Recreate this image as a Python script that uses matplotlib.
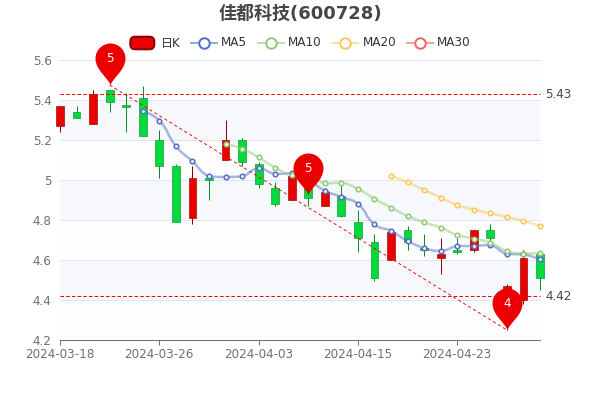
import numpy as np
import matplotlib
matplotlib.use('Agg')
import matplotlib.pyplot as plt
from matplotlib.lines import Line2D
from matplotlib.path import Path
from matplotlib.patches import FancyBboxPatch, PathPatch, Rectangle

plt.rcParams['font.family'] = ['DejaVu Sans', 'Noto Sans CJK SC']

dates = ['2024-03-18', '2024-03-19', '2024-03-20', '2024-03-21', '2024-03-22', '2024-03-25',
         '2024-03-26', '2024-03-27', '2024-03-28', '2024-03-29', '2024-04-01', '2024-04-02',
         '2024-04-03', '2024-04-08', '2024-04-09', '2024-04-10', '2024-04-11', '2024-04-12',
         '2024-04-15', '2024-04-16', '2024-04-17', '2024-04-18', '2024-04-19', '2024-04-22',
         '2024-04-23', '2024-04-24', '2024-04-25', '2024-04-26', '2024-04-29', '2024-04-30']

opens = [5.27, 5.342, 5.28, 5.45, 5.375, 5.41, 5.20, 5.07, 4.81, 5.01, 5.10, 5.20, 5.08, 4.96, 4.90,
         4.99, 4.87, 4.92, 4.79, 4.69, 4.60, 4.75, 4.66, 4.61, 4.65, 4.65, 4.75, 4.42, 4.40, 4.63]
closes = [5.37, 5.31, 5.43, 5.39, 5.365, 5.22, 5.07, 4.79, 5.01, 5.00, 5.20, 5.09, 4.98, 4.88, 5.02,
          4.91, 4.94, 4.82, 4.71, 4.51, 4.74, 4.69, 4.65, 4.63, 4.64, 4.75, 4.71, 4.47, 4.61, 4.51]
lows = [5.24, 5.31, 5.28, 5.342, 5.24, 5.22, 5.01, 4.79, 4.78, 4.90, 5.10, 5.07, 4.96, 4.87, 4.90,
        4.87, 4.87, 4.815, 4.64, 4.495, 4.60, 4.65, 4.62, 4.53, 4.63, 4.64, 4.685, 4.25, 4.38, 4.45]
highs = [5.37, 5.37, 5.448, 5.45, 5.435, 5.47, 5.25, 5.08, 5.07, 5.02, 5.30, 5.21, 5.09, 4.99, 5.04,
         5.00, 4.96, 4.985, 4.85, 4.73, 4.75, 4.77, 4.73, 4.71, 4.71, 4.75, 4.78, 4.48, 4.65, 4.63]

ma5_idx = list(range(5, 30))
ma5 = [5.345, 5.297, 5.17, 5.093, 5.018, 5.015, 5.018, 5.058, 5.03, 5.033, 5.00, 4.947, 4.915,
       4.88, 4.778, 4.745, 4.695, 4.66, 4.645, 4.67, 4.67, 4.675, 4.63, 4.628, 4.603]
ma10_idx = list(range(10, 30))
ma10 = [5.18, 5.157, 5.113, 5.062, 5.025, 5.03, 4.983, 4.987, 4.955, 4.907, 4.862, 4.82, 4.788,
        4.762, 4.725, 4.707, 4.687, 4.645, 4.632, 4.635]
ma20_idx = list(range(20, 30))
ma20 = [5.02, 4.988, 4.95, 4.912, 4.875, 4.852, 4.833, 4.815, 4.795, 4.77]

max_line = 5.43
min_line = 4.42
pin_idx = [3, 15, 27]
pin_val = [5.475, 4.925, 4.25]
pin_txt = ['5', '5', '4']

yticks = [4.2, 4.4, 4.6, 4.8, 5.0, 5.2, 5.4, 5.6]
ytick_labels = ['4.2', '4.4', '4.6', '4.8', '5', '5.2', '5.4', '5.6']
xtick_idx = [0, 6, 12, 18, 24]

UP = '#eb0000'
UP_EDGE = '#8a0000'
DOWN = '#00da3c'
DOWN_EDGE = '#008f28'
C5, C10, C20, C30 = '#5470c6', '#91cc75', '#fac858', '#ee6666'
TICK = '#6e7079'
PX = 0.72  # one pixel in points at dpi 100


def smooth_path(xs, ys, sx=16.55, sy=200, k=0.5):
    # bezier through the points, same idea as a smooth echarts line
    p = np.column_stack([np.array(xs) * sx, np.array(ys) * sy])
    n = len(p)
    verts, codes = [tuple(p[0])], [Path.MOVETO]
    out_cp = p[0].copy()
    for i in range(1, n):
        if i < n - 1:
            v = p[i + 1] - p[i - 1]
            d0 = np.linalg.norm(p[i] - p[i - 1])
            d1 = np.linalg.norm(p[i + 1] - p[i])
            r = d0 / (d0 + d1)
            in_cp = p[i] - v * k * r
            next_out = p[i] + v * k * (1 - r)
            in_cp[1] = np.clip(in_cp[1], min(p[i - 1][1], p[i][1]), max(p[i - 1][1], p[i][1]))
            next_out[1] = np.clip(next_out[1], min(p[i][1], p[i + 1][1]), max(p[i][1], p[i + 1][1]))
        else:
            in_cp = p[i].copy()
            next_out = p[i].copy()
        verts += [tuple(out_cp), tuple(in_cp), tuple(p[i])]
        codes += [Path.CURVE4, Path.CURVE4, Path.CURVE4]
        out_cp = next_out
    verts = np.array(verts) / [sx, sy]
    return Path(verts, codes)


def pin_marker():
    # tip at origin, head above it, 30 wide and 42 tall
    t = 0.5523 * 15
    cy = 27
    verts = [(0, 0), (-1.5, 7), (-15, 15), (-15, cy), (-15, cy + t), (-t, cy + 15), (0, cy + 15),
             (t, cy + 15), (15, cy + t), (15, cy), (15, 15), (1.5, 7), (0, 0), (0, 0)]
    codes = [Path.MOVETO] + [Path.CURVE4] * 12 + [Path.CLOSEPOLY]
    return Path(verts, codes)


fig = plt.figure(figsize=(6, 4), dpi=100)
ax = fig.add_axes([60 / 600, 1 - 340 / 400, 480 / 600, 280 / 400])
ax.set_xlim(0, 29)
ax.set_ylim(4.2, 5.6)

# split bands and grid
for i in range(len(yticks) - 1):
    col = '#f6f8fc' if i % 2 == 1 else '#fdfdfe'
    ax.axhspan(yticks[i], yticks[i + 1], color=col, lw=0, zorder=0)
for y in yticks[1:]:
    ax.axhline(y, color='#e0e6f1', lw=1 * PX, zorder=1, clip_on=False)

# candles
w = 0.47
for i in range(len(dates)):
    up = closes[i] >= opens[i]
    face = UP if up else DOWN
    edge = UP_EDGE if up else DOWN_EDGE
    ax.plot([i, i], [lows[i], highs[i]], color=edge, lw=1 * PX, zorder=2, clip_on=False,
            solid_capstyle='butt')
    ax.add_patch(Rectangle((i - w / 2, min(opens[i], closes[i])), w, abs(closes[i] - opens[i]),
                           facecolor=face, edgecolor=edge, lw=0.6 * PX, zorder=3, clip_on=False))

# mark lines
for val in [max_line, min_line]:
    ax.plot([0, 29], [val, val], color='#f00000', lw=1 * PX, ls=(0, (3.5, 2.2)), zorder=4,
            clip_on=False)
    ax.annotate(f'{val:.2f}', (29, val), xytext=(5 * PX, 0), textcoords='offset points',
                ha='left', va='center', fontsize=12 * PX, color='#464646', annotation_clip=False)
ax.plot([pin_idx[0], pin_idx[2]], [pin_val[0], pin_val[2]], color='#f00000', lw=0.9 * PX,
        ls=(0, (3.5, 3)), zorder=4, clip_on=False)

# moving averages
for idx, vals, col in [(ma5_idx, ma5, C5), (ma10_idx, ma10, C10), (ma20_idx, ma20, C20)]:
    ax.add_patch(PathPatch(smooth_path(idx, vals), fill=False, edgecolor=col, alpha=0.5,
                           lw=2.5 * PX, zorder=5, clip_on=False))
    ax.plot(idx, vals, ls='none', marker='o', ms=4.5 * PX, mew=1.6 * PX, mfc='white', mec=col,
            zorder=6, clip_on=False)

# pins
ax.plot(pin_idx, pin_val, ls='none', marker=pin_marker(), ms=84 * PX, color='#eb0000', mew=0,
        zorder=8, clip_on=False)
for i, v, t in zip(pin_idx, pin_val, pin_txt):
    ax.annotate(t, (i, v), xytext=(0, 26.5 * PX), textcoords='offset points', ha='center',
                va='center', fontsize=12 * PX, color='white', zorder=9, annotation_clip=False)

# axes
for name in ['top', 'right', 'left']:
    ax.spines[name].set_visible(False)
ax.spines['bottom'].set_color(TICK)
ax.spines['bottom'].set_linewidth(1 * PX)
ax.spines['bottom'].set_zorder(2)
ax.set_yticks(yticks, ytick_labels)
ax.set_xticks(xtick_idx, [dates[i] for i in xtick_idx])
ax.tick_params(axis='y', length=0, pad=6, labelsize=12 * PX, labelcolor=TICK)
ax.tick_params(axis='x', length=5 * PX, width=1 * PX, color=TICK, pad=2.5, labelsize=12 * PX,
               labelcolor=TICK)

# title
fig.text(300 / 600, 1 - 13.5 / 400, '佳都科技(600728)', ha='center', va='center',
         fontsize=18 * PX, fontweight='bold', color='#464646')


# legend, placed by pixel
def fx(x):
    return x / 600


def fy(y):
    return 1 - y / 400


fig.add_artist(FancyBboxPatch((fx(130.3), fy(49.3)), 24 / 600, 12.6 / 400, transform=fig.transFigure,
                              boxstyle='round,pad=0,rounding_size=0.008', mutation_aspect=1.5,
                              facecolor=UP, edgecolor=UP_EDGE, lw=2 * PX))
fig.text(fx(161), fy(43), '日K', ha='left', va='center', fontsize=12 * PX, color='#333333')
for x0, name, col in [(191, 'MA5', C5), (258, 'MA10', C10), (332.5, 'MA20', C20), (407, 'MA30', C30)]:
    fig.add_artist(Line2D([fx(x0), fx(x0 + 25.5)], [fy(43), fy(43)], transform=fig.transFigure,
                          color=col, alpha=0.6, lw=2 * PX))
    fig.add_artist(Line2D([fx(x0 + 12.7)], [fy(43)], transform=fig.transFigure, ls='none',
                          marker='o', ms=10.5 * PX, mew=2 * PX, mfc='white', mec=col))
    fig.text(fx(x0 + 30.3), fy(43), name, ha='left', va='center', fontsize=12 * PX, color='#333333')

fig.savefig('out.png', dpi=100)
